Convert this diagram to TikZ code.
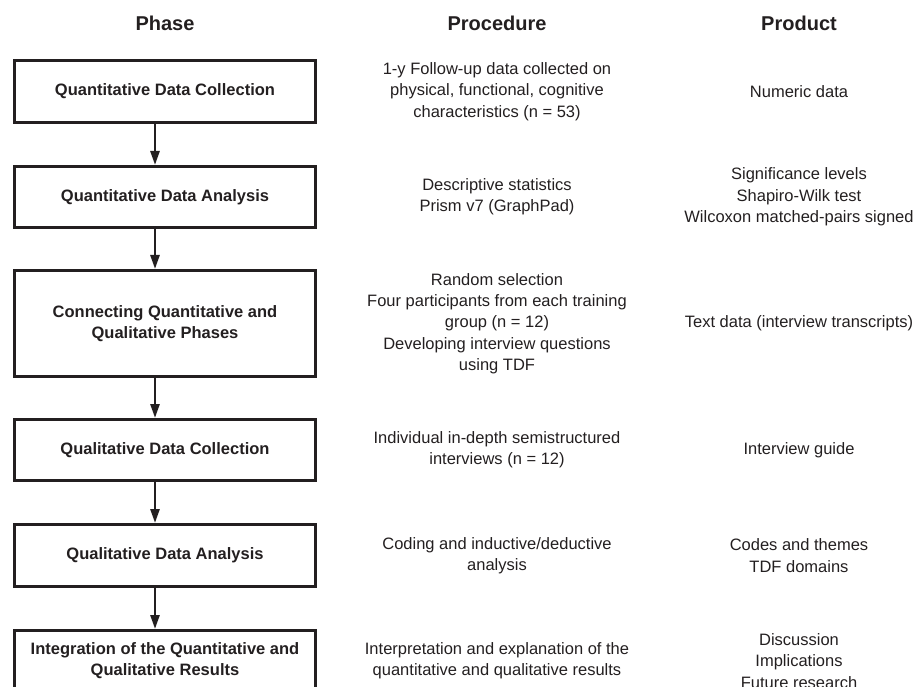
\documentclass[tikz,border=0pt]{standalone}
\usepackage{fontspec}
\setmainfont{Liberation Sans}
\usetikzlibrary{arrows.meta}
\definecolor{ink}{RGB}{35,31,32}
\tikzset{
  phasebox/.style={draw=ink, line width=3pt, minimum width=301pt, align=center, text=ink, font=\fontsize{16.5}{21}\selectfont\bfseries},
  info/.style={align=center, text=ink, font=\fontsize{16.5}{21.3}\selectfont},
  head/.style={text=ink, font=\fontsize{20}{24}\selectfont\bfseries},
  flow/.style={draw=ink, line width=2.6pt, -{Triangle[length=14pt,width=9pt]}}
}
\begin{document}
\begin{tikzpicture}[x=1pt,y=-1pt]
\useasboundingbox (0,0) rectangle (916,687);
\clip (0,0) rectangle (916,687);
% column heads
\node [head] (hphase) at (165,23) {Phase};
\node [head] (hproc) at (497,23) {Procedure};
\node [head] (hprod) at (799,23) {Product};
% phases
\node [phasebox, minimum height=62pt] (q1) at (165,91.5) {Quantitative Data Collection};
\node [phasebox, minimum height=61pt] (q2) at (165,197) {Quantitative Data Analysis};
\node [phasebox, minimum height=106pt] (q3) at (165,323.5) {Connecting Quantitative and\\Qualitative Phases};
\node [phasebox, minimum height=61pt] (q4) at (165,450) {Qualitative Data Collection};
\node [phasebox, minimum height=62pt] (q5) at (165,555.5) {Qualitative Data Analysis};
\node [phasebox, minimum height=61pt] (q6) at (165,661) {Integration of the Quantitative and\\Qualitative Results};
\foreach \a/\b in {q1/q2,q2/q3,q3/q4,q4/q5,q5/q6} {\draw [flow] ([xshift=-10pt]\a.south) -- ([xshift=-10pt]\b.north);}
% procedures
\node [info] (p1) at (497,91.5) {1-y Follow-up data collected on\\physical, functional, cognitive\\characteristics (n = 53)};
\node [info] (p2) at (497,197) {Descriptive statistics\\Prism v7 (GraphPad)};
\node [info] (p3) at (497,323.5) {Random selection\\Four participants from each training\\group (n = 12)\\Developing interview questions\\using TDF};
\node [info] (p4) at (497,450) {Individual in-depth semistructured\\interviews (n = 12)};
\node [info] (p5) at (497,555.5) {Coding and inductive/deductive\\analysis};
\node [info] (p6) at (497,661) {Interpretation and explanation of the\\quantitative and qualitative results};
% products
\node [info] (r1) at (799,91.5) {Numeric data};
\node [info] (r2) at (799,197) {Significance levels\\Shapiro-Wilk test\\Wilcoxon matched-pairs signed};
\node [info] (r3) at (799,323.5) {Text data (interview transcripts)};
\node [info] (r4) at (799,450) {Interview guide};
\node [info] (r5) at (799,555.5) {Codes and themes\\TDF domains};
\node [info] (r6) at (799,661) {Discussion\\Implications\\Future research};
\end{tikzpicture}
\end{document}
